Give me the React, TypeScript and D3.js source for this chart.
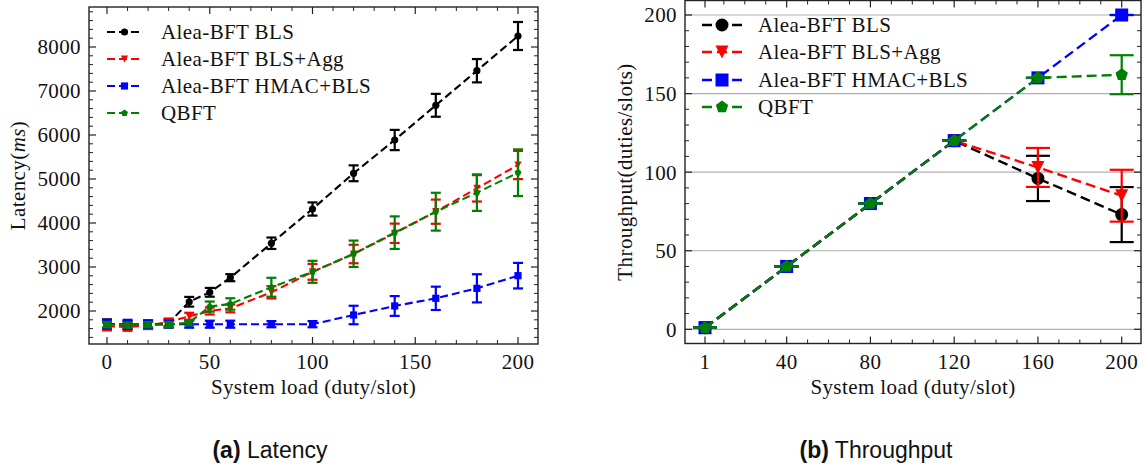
import React from 'react';
import * as d3 from 'd3';

// latency panel (a)
const loadsLat = [0, 10, 20, 30, 40, 50, 60, 80, 100, 120, 140, 160, 180, 200];
const blsLat = [1710, 1680, 1690, 1720, 2210, 2425, 2757, 3540, 4318, 5130, 5886, 6675, 7461, 8250];
const blsLatErr = [100, 90, 90, 90, 110, 100, 80, 130, 150, 180, 230, 260, 265, 318];
const aggLat = [1650, 1640, 1670, 1750, 1880, 2000, 2060, 2425, 2890, 3295, 3766, 4257, 4788, 5318];
const aggLatErr = [90, 90, 80, 80, 80, 80, 90, 140, 180, 210, 220, 275, 300, 320];
const hmacLat = [1700, 1700, 1700, 1700, 1700, 1700, 1700, 1700, 1700, 1909, 2114, 2288, 2515, 2803];
const hmacLatErr = [100, 100, 90, 80, 80, 80, 80, 70, 70, 210, 225, 265, 320, 290];
const qbftLat = [1690, 1680, 1690, 1690, 1735, 2100, 2160, 2540, 2890, 3300, 3780, 4257, 4690, 5143];
const qbftLatErr = [60, 60, 60, 60, 60, 115, 130, 215, 250, 300, 370, 430, 415, 530];

// throughput panel (b)
const loadsTp = [1, 40, 80, 120, 160, 200];
const blsTp = [1, 40, 80, 120, 96, 73];
const blsTpErr = [0, 0, 0, 0, 14.4, 17.5];
const aggTp = [1, 40, 80, 120, 103, 85];
const aggTpErr = [0, 0, 0, 0, 12.4, 16.5];
const hmacTp = [1, 40, 80, 120, 160, 200];
const hmacTpErr = [0, 0, 0, 0, 0, 0];
const qbftTp = [1, 40, 80, 120, 160, 162];
const qbftTpErr = [0, 0, 0, 0, 0, 12.4];

const seriesNames = ['Alea-BFT BLS', 'Alea-BFT BLS+Agg', 'Alea-BFT HMAC+BLS', 'QBFT'];
const seriesColors = ['#000000', '#ff0000', '#0000ff', '#008000'];
const seriesMarkers = ['circle', 'tri', 'square', 'penta'];

const latXTicks = [0, 50, 100, 150, 200];
const latYTicks = [2000, 3000, 4000, 5000, 6000, 7000, 8000];
const tpXTicks = [1, 40, 80, 120, 160, 200];
const tpYTicks = [0, 50, 100, 150, 200];

const SERIF = '"Liberation Serif", "Times New Roman", serif';
const SANS = '"Liberation Sans", Arial, sans-serif';

function markerPath(kind: string, r: number): string {
  if (kind === 'circle') return d3.symbol(d3.symbolCircle, Math.PI * r * r)() as string;
  if (kind === 'square') return `M${-r},${-r}H${r}V${r}H${-r}Z`;
  if (kind === 'tri') return `M${-r},${-r}L${r},${-r}L0,${r}Z`;
  const pts = d3.range(5).map(k => {
    const a = -Math.PI / 2 + (k * 2 * Math.PI) / 5;
    return [r * Math.cos(a), r * Math.sin(a)];
  });
  return 'M' + pts.map(p => p.join(',')).join('L') + 'Z';
}

type Panel = {
  box: { l: number; r: number; t: number; b: number };
  x: d3.ScaleLinear<number, number>;
  y: d3.ScaleLinear<number, number>;
  xTicks: number[];
  xMinor: number[];
  yTicks: number[];
  yMinor: number[];
  loads: number[];
  vals: number[][];
  errs: number[][];
  mr: number; // marker radius
  cap: number;
  lw: number;
  dash: string;
  grid: boolean;
  legend: { x1: number; x2: number; tx: number; rows: number[] };
  yLabel: React.ReactNode;
  yLabelX: number;
  xLabelY: number;
};

function AxesPanel({ p }: { p: Panel }) {
  const { box, x, y } = p;
  const tickFont = { fontFamily: SERIF, fontSize: 21, letterSpacing: 0.4 };
  const line = d3.line<number>().x((_, i) => x(p.loads[i])).y(d => y(d));
  return (
    <g>
      {p.grid && p.yTicks.map(t => (
        <line key={'g' + t} x1={box.l} x2={box.r} y1={y(t)} y2={y(t)} stroke="#b0b0b0" strokeWidth={1.2} />
      ))}
      {p.vals.map((vals, si) => {
        const c = seriesColors[si];
        return (
          <g key={si}>
            {vals.map((v, i) => {
              const e = p.errs[si][i];
              const cx = x(p.loads[i]);
              return (
                <g key={i} stroke={c} strokeWidth={2.2}>
                  <line x1={cx} x2={cx} y1={y(v - e)} y2={y(v + e)} />
                  <line x1={cx - p.cap} x2={cx + p.cap} y1={y(v - e)} y2={y(v - e)} />
                  <line x1={cx - p.cap} x2={cx + p.cap} y1={y(v + e)} y2={y(v + e)} />
                </g>
              );
            })}
            <path d={line(vals) as string} fill="none" stroke={c} strokeWidth={p.lw} strokeDasharray={p.dash} />
            {vals.map((v, i) => (
              <path key={'m' + i} d={markerPath(seriesMarkers[si], p.mr)} transform={`translate(${x(p.loads[i])},${y(v)})`} fill={c} />
            ))}
          </g>
        );
      })}
      {/* spines */}
      <rect x={box.l} y={box.t} width={box.r - box.l} height={box.b - box.t} fill="none" stroke="#222" strokeWidth={1.4} />
      {p.xTicks.map(t => (
        <g key={'xt' + t} stroke="#222" strokeWidth={1.2}>
          <line x1={x(t)} x2={x(t)} y1={box.b} y2={box.b - 7} />
          <line x1={x(t)} x2={x(t)} y1={box.t} y2={box.t + 7} />
        </g>
      ))}
      {p.xMinor.map(t => (
        <g key={'xm' + t} stroke="#222" strokeWidth={1}>
          <line x1={x(t)} x2={x(t)} y1={box.b} y2={box.b - 4} />
          <line x1={x(t)} x2={x(t)} y1={box.t} y2={box.t + 4} />
        </g>
      ))}
      {p.yTicks.map(t => (
        <g key={'yt' + t} stroke="#222" strokeWidth={1.2}>
          <line x1={box.l} x2={box.l + 7} y1={y(t)} y2={y(t)} />
          <line x1={box.r} x2={box.r - 7} y1={y(t)} y2={y(t)} />
        </g>
      ))}
      {p.yMinor.map(t => (
        <g key={'ym' + t} stroke="#222" strokeWidth={1}>
          <line x1={box.l} x2={box.l + 4} y1={y(t)} y2={y(t)} />
          <line x1={box.r} x2={box.r - 4} y1={y(t)} y2={y(t)} />
        </g>
      ))}
      {p.xTicks.map(t => (
        <text key={'xl' + t} x={x(t)} y={box.b + 25} textAnchor="middle" style={tickFont} fill="#111">{t}</text>
      ))}
      {p.yTicks.map(t => (
        <text key={'yl' + t} x={box.l - 8} y={y(t)} dy="0.35em" textAnchor="end" style={tickFont} fill="#111">{t}</text>
      ))}
      <text x={(box.l + box.r) / 2} y={p.xLabelY} textAnchor="middle" style={tickFont} fill="#111">System load (duty/slot)</text>
      <text transform={`translate(${p.yLabelX},${(box.t + box.b) / 2}) rotate(-90)`} textAnchor="middle" dy="0.35em" style={tickFont} fill="#111">{p.yLabel}</text>
      {/* legend */}
      {seriesNames.map((n, i) => {
        const ly = p.legend.rows[i];
        const mx = (p.legend.x1 + p.legend.x2) / 2;
        return (
          <g key={'lg' + i}>
            <line x1={p.legend.x1} x2={p.legend.x2} y1={ly} y2={ly} stroke={seriesColors[i]} strokeWidth={p.lw} strokeDasharray={p.dash} />
            <path d={markerPath(seriesMarkers[i], p.mr)} transform={`translate(${mx},${ly})`} fill={seriesColors[i]} />
            <text x={p.legend.tx} y={ly} dy="0.35em" style={tickFont} fill="#111">{n}</text>
          </g>
        );
      })}
    </g>
  );
}

export default function App() {
  const latPanel: Panel = {
    box: { l: 89, r: 538, t: 7, b: 344 },
    x: d3.scaleLinear().domain([0, 200]).range([107, 518]),
    y: d3.scaleLinear().domain([2000, 8000]).range([311, 47]),
    xTicks: latXTicks,
    xMinor: d3.range(0, 201, 10).filter(v => v % 50 !== 0),
    yTicks: latYTicks,
    yMinor: d3.range(1400, 8801, 200).filter(v => v % 1000 !== 0),
    loads: loadsLat,
    vals: [blsLat, aggLat, hmacLat, qbftLat],
    errs: [blsLatErr, aggLatErr, hmacLatErr, qbftLatErr],
    mr: 3.6,
    cap: 5,
    lw: 2.1,
    dash: '8,4',
    grid: false,
    legend: { x1: 107, x2: 142, tx: 161, rows: [32, 59, 86, 113] },
    yLabel: <>Latency(<tspan fontStyle="italic">ms</tspan>)</>,
    yLabelX: 18,
    xLabelY: 394,
  };
  const tpPanel: Panel = {
    box: { l: 685, r: 1141, t: 0.5, b: 343.5 },
    x: d3.scaleLinear().domain([1, 200]).range([705, 1121.7]),
    y: d3.scaleLinear().domain([0, 200]).range([329.3, 15]),
    xTicks: tpXTicks,
    xMinor: d3.range(10, 201, 10).filter(v => v % 40 !== 0),
    yTicks: tpYTicks,
    yMinor: d3.range(-0, 210, 10).filter(v => v % 50 !== 0),
    loads: loadsTp,
    vals: [blsTp, aggTp, hmacTp, qbftTp],
    errs: [blsTpErr, aggTpErr, hmacTpErr, qbftTpErr],
    mr: 6.5,
    cap: 12,
    lw: 2.4,
    dash: '10,5',
    grid: true,
    legend: { x1: 702, x2: 742, tx: 758, rows: [25, 52, 80, 107] },
    yLabel: 'Throughput(duties/slots)',
    yLabelX: 625,
    xLabelY: 394,
  };
  return (
    <svg width={1145} height={474} style={{ position: 'absolute', left: 0, top: 0, background: '#fff' }}>
      <AxesPanel p={latPanel} />
      <AxesPanel p={tpPanel} />
      <text x={270} y={458} textAnchor="middle" style={{ fontFamily: SANS, fontSize: 23 }} fill="#111">
        <tspan fontWeight="bold">(a)</tspan> Latency
      </text>
      <text x={876} y={458} textAnchor="middle" style={{ fontFamily: SANS, fontSize: 23 }} fill="#111">
        <tspan fontWeight="bold">(b)</tspan> Throughput
      </text>
    </svg>
  );
}
